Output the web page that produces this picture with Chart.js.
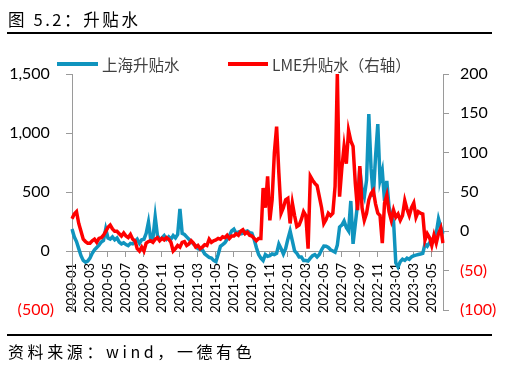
<!DOCTYPE html>
<html>
<head>
<meta charset="utf-8">
<script src="https://cdn.jsdelivr.net/npm/chart.js@4.4.0/dist/chart.umd.min.js"></script>
<style>
  body { margin: 0; background: #fff; }
  #wrap { position: relative; width: 505px; height: 367px; overflow: hidden; font-family: "Noto Sans CJK SC", sans-serif; }
  #chart { position: absolute; left: 0; top: 0; }
  .txt { position: absolute; white-space: nowrap; color: #000; }
  .rule { position: absolute; left: 7px; width: 485px; height: 2px; background: #000; }
  .key { position: absolute; height: 4px; }
  .keytxt { position: absolute; font-size: 15.5px; color: #404040; white-space: nowrap; line-height: 18px; }
</style>
</head>
<body>
<div id="wrap">
  <canvas id="chart" width="505" height="367"></canvas>
  <div class="txt" style="left:8px; top:7px; font-size:16.5px; letter-spacing:2.6px;">图 5.2：升贴水</div>
  <div class="rule" style="top:32px;"></div>
  <div class="key" style="left:57px; top:62px; width:41px; background:#1094BE;"></div>
  <div class="keytxt" style="left:102px; top:55px;">上海升贴水</div>
  <div class="key" style="left:228px; top:62px; width:40px; background:#FF0000;"></div>
  <div class="keytxt" style="left:272px; top:55px;">LME升贴水（右轴）</div>
  <div class="rule" style="top:334px;"></div>
  <div class="txt" style="left:8px; top:339px; font-size:16px; letter-spacing:3.6px;">资料来源：wind，一德有色</div>
</div>
<script>
// 每周一个点（每月 01/08/16/24），2020-01-01 到 2023-06-08
var days = ['01', '08', '16', '24'];
var dates = [];
for (var yr = 2020; yr <= 2023; yr++) {
  for (var mo = 1; mo <= 12; mo++) {
    var m = (mo < 10 ? '0' : '') + mo;
    for (var k = 0; k < 4; k++) {
      if (yr === 2023 && (mo > 6 || (mo === 6 && k > 1))) break;
      dates.push(yr + '-' + m + '-' + days[k]);
    }
  }
}

var tickLabels = ['2020-01', '2020-03', '2020-05', '2020-07', '2020-09', '2020-11',
  '2021-01', '2021-03', '2021-05', '2021-07', '2021-09', '2021-11',
  '2022-01', '2022-03', '2022-05', '2022-07', '2022-09', '2022-11',
  '2023-01', '2023-03', '2023-05'];

// 上海升贴水 (左轴)，一行一个月
var shanghai = [
  186, 120, 80, 20,
  -40, -80, -95, -85,
  -60, -20, 10, 30,
  50, 76, 90, 186,
  110, 100, 120, 95,
  110, 75, 60, 70,
  55, 45, 65, 60,
  80, 100, 65, 95,
  100, 150, 245, 100,
  110, 290, 130, 100,
  110, 130, 100, 120,
  100, 130, 110, 140,
  356, 150, 140, 120,
  100, 80, 60, 45,
  20, 15, 10, -25,
  -40, -55, -60, -80,
  -90, -30, 40, 55,
  70, 100, 130, 170,
  185, 150, 160, 145,
  150, 165, 170, 155,
  150, 100, 30, -30,
  -60, -80, -30, -45,
  -40, -25, -30, -20,
  59, 20, -25, 20,
  100, 170, 85, 0,
  -20, -50, -50, -80,
  -80, -85, -60, -40,
  -30, -50, -30, 10,
  42, 40, 30, 10,
  0, -10, 50, 203,
  220, 254, 200, 170,
  424, 60, 229, 400,
  700, 520, 458, 600,
  1160, 700, 458, 800,
  1076, 600, 680, 424,
  593, 373, 300, 254,
  -100, -135, -90, -70,
  -80, -60, -70, -50,
  -40, -35, -30, -25,
  -20, 59, 40, 70,
  90, 119, 150, 271,
  203, 145];

// LME升贴水 (右轴)，一行一个月
var lme = [
  16, 22, 25, 10,
  0, -10, -13, -15,
  -15, -12, -10, -14,
  -9, -8, -5, 0,
  5, 8, 3, 0,
  0, -3, -6, -2,
  -6, -8, -4, -10,
  -12, -22, -25, -20,
  -25, -15, -13, -12,
  -14, -10, -8, -12,
  -9, -11, -8, -10,
  -14, -25, -22, -18,
  -20, -14, -13, -18,
  -16, -12, -15, -20,
  -18, -22, -20, -17,
  -18, -10, -14, -12,
  -11, -9, -10, -7,
  -8, -5, -9, -6,
  -6, -3, -5, 0,
  2, -3, -1, -5,
  -6, -9, -12, -9,
  -9, 55, 30, 70,
  14, 40, 100, 133,
  74, 23, 30, 40,
  42, 10, 36, 20,
  6, 8, 15, 25,
  20, -22, 70, 65,
  61, 58, 44, 30,
  10, 15, 23, 20,
  23, 57, 200, 44,
  80, 108, 86, 128,
  115, 108, 61, 27,
  83, 30, 14, 23,
  40, 48, 52, 35,
  23, 20, -15, 36,
  46, 25, 14, 27,
  18, 22, 14, 20,
  39, 28, 20, 30,
  36, 18, 25, 23,
  22, -11, -3, -8,
  -18, -5, -15, -3,
  4, -15];

function fmt(v) {
  var s = Math.abs(v).toLocaleString('en-US');
  return v < 0 ? '(' + s + ')' : s + ' ';
}
function negRed(ctx) {
  return ctx.tick && ctx.tick.value < 0 ? '#FF0000' : '#000000';
}

var axisGray = '#9A9A9A';
var ctx = document.getElementById('chart').getContext('2d');
var chart = new Chart(ctx, {
  type: 'line',
  data: {
    labels: dates,
    datasets: [{
      label: '上海升贴水',
      data: shanghai,
      yAxisID: 'y',
      borderColor: '#1094BE',
      borderWidth: 3.5,
      pointRadius: 0,
      order: 1
    }, {
      label: 'LME升贴水（右轴）',
      data: lme,
      yAxisID: 'y1',
      borderColor: '#FF0000',
      borderWidth: 3.5,
      pointRadius: 0,
      order: 0
    }]
  },
  options: {
    responsive: false,
    animation: false,
    layout: { padding: { top: 74, bottom: 57, left: 0, right: 0 } },
    plugins: { legend: { display: false }, tooltip: { enabled: false } },
    scales: {
      x: {
        type: 'category',
        position: { y: 0 },
        offset: false,
        border: { display: true, color: axisGray, width: 1 },
        grid: { drawOnChartArea: false, drawTicks: true, tickLength: 5, color: axisGray },
        ticks: {
          autoSkip: false,
          minRotation: 90,
          maxRotation: 90,
          padding: 7,
          color: '#000',
          font: { family: 'Lato', size: 13 },
          callback: function (val, i) {
            var d = dates[i];
            if (d.slice(8) !== '01') return null;
            var lab = d.slice(0, 7);
            return tickLabels.indexOf(lab) >= 0 ? lab : null;
          }
        }
      },
      y: {
        position: 'left',
        min: -500,
        max: 1500,
        border: { display: true, color: axisGray, width: 1 },
        grid: { drawOnChartArea: false, drawTicks: true, tickLength: 6, color: axisGray },
        ticks: {
          stepSize: 500,
          padding: 12,
          color: negRed,
          font: { family: 'Lato', size: 16 },
          callback: function (v) { return fmt(v); }
        },
        afterFit: function (scale) { scale.width = 72; }
      },
      y1: {
        position: 'right',
        min: -100,
        max: 200,
        border: { display: true, color: axisGray, width: 1 },
        grid: { drawOnChartArea: false, drawTicks: true, tickLength: 6, color: axisGray },
        ticks: {
          stepSize: 50,
          padding: 11,
          color: negRed,
          font: { family: 'Lato', size: 16 },
          callback: function (v) { return fmt(v); }
        },
        afterFit: function (scale) { scale.width = 62; }
      }
    }
  }
});
</script>
</body>
</html>
